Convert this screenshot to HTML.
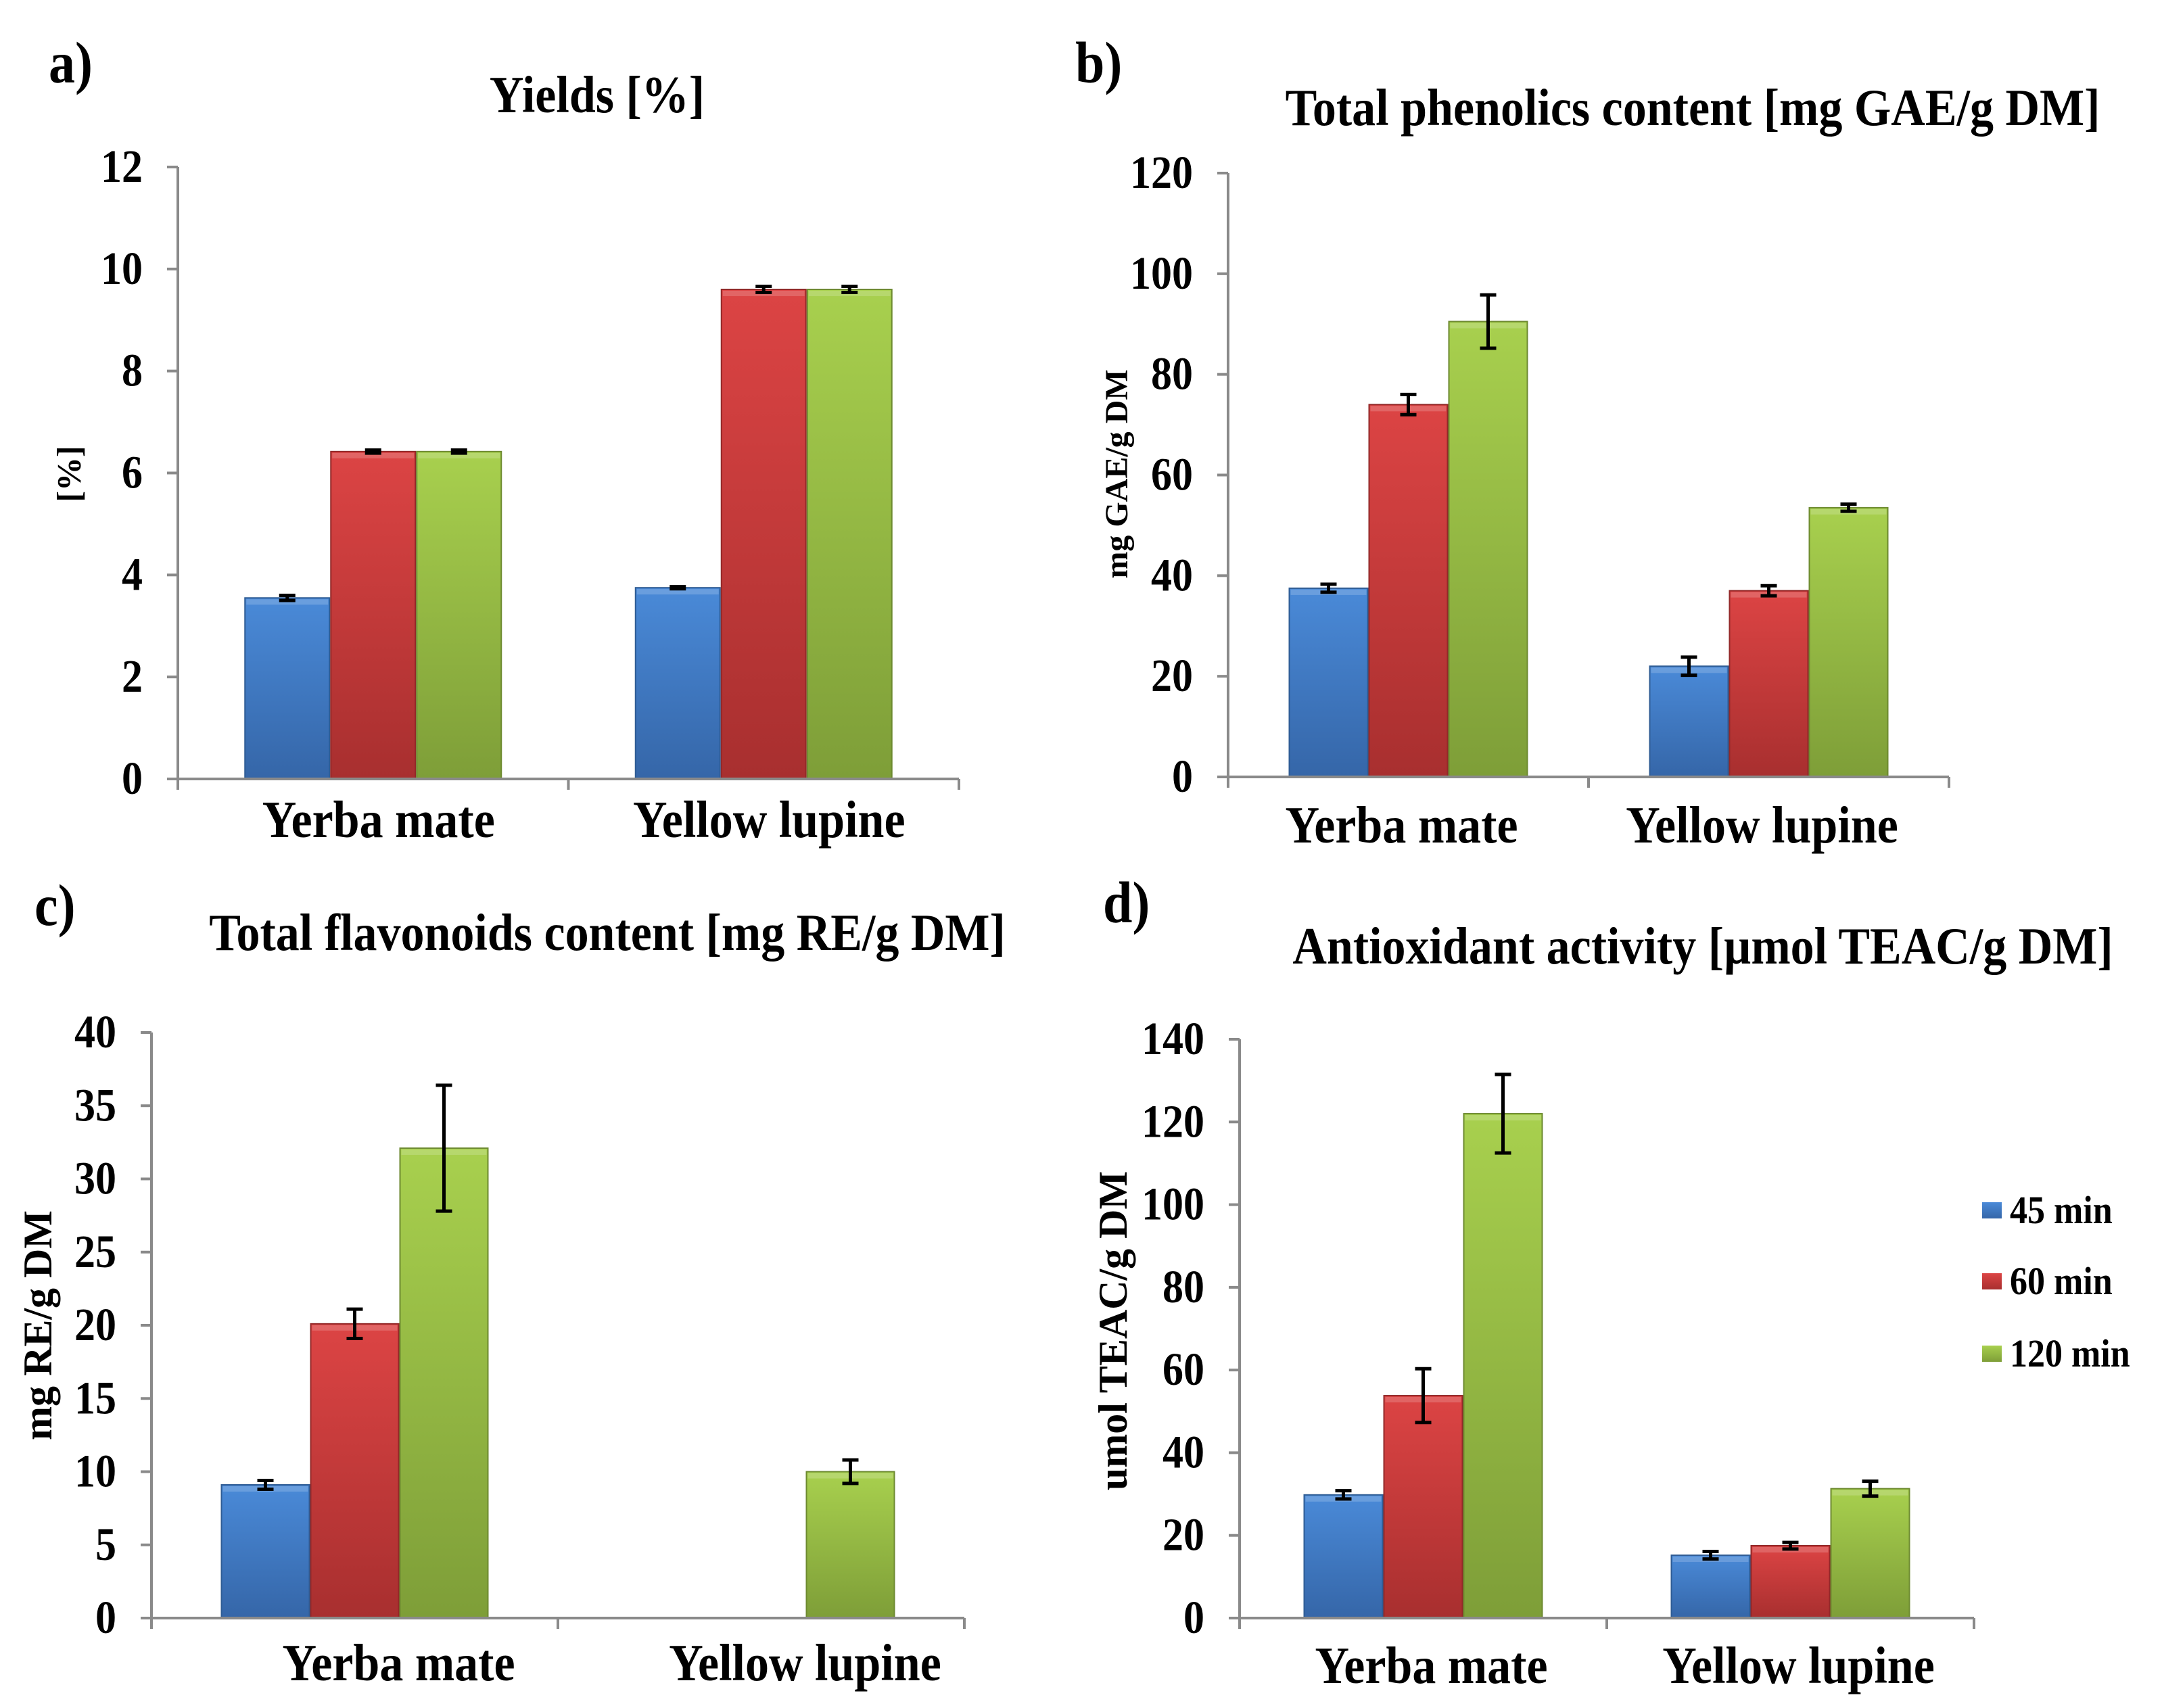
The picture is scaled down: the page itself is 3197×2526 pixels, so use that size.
<!DOCTYPE html>
<html><head><meta charset="utf-8"><style>html,body{margin:0;padding:0;background:#fff;overflow:hidden}svg{display:block}</style></head>
<body>
<svg id="fig" xmlns="http://www.w3.org/2000/svg" width="3197" height="2526" viewBox="0 0 3197 2526">
<defs>
<linearGradient id="g0" x1="0" y1="0" x2="0" y2="1"><stop offset="0" stop-color="#4a8ad8"/><stop offset="1" stop-color="#3566a8"/></linearGradient>
<linearGradient id="g1" x1="0" y1="0" x2="0" y2="1"><stop offset="0" stop-color="#dc4444"/><stop offset="1" stop-color="#a82f2f"/></linearGradient>
<linearGradient id="g2" x1="0" y1="0" x2="0" y2="1"><stop offset="0" stop-color="#a8d04e"/><stop offset="1" stop-color="#7e9e38"/></linearGradient>
</defs>
<rect x="0" y="0" width="3197" height="2526" fill="#fff"/>
</svg>
<script>
const categories = ["Yerba mate", "Yellow lupine"];
const seriesNames = ["45 min", "60 min", "120 min"];
const titles = ["Yields [%]", "Total phenolics content [mg GAE/g DM]", "Total flavonoids content [mg RE/g DM]", "Antioxidant activity [\u00b5mol TEAC/g DM]"];
const yTitles = ["[%]", "mg GAE/g DM", "mg RE/g DM", "umol TEAC/g DM"];
const panelLetters = ["a)", "b)", "c)", "d)"];
const yTicksA = [0, 2, 4, 6, 8, 10, 12];
const yTicksB = [0, 20, 40, 60, 80, 100, 120];
const yTicksC = [0, 5, 10, 15, 20, 25, 30, 35, 40];
const yTicksD = [0, 20, 40, 60, 80, 100, 120, 140];
// values[series][category]
const valuesA = [[3.55, 3.75], [6.42, 9.6], [6.42, 9.6]];
const errorsA = [[0.05, 0.02], [0.03, 0.06], [0.03, 0.06]];
const valuesB = [[37.5, 22], [74, 37], [90.5, 53.5]];
const errorsB = [[0.8, 1.8], [2, 1], [5.3, 0.7]];
const valuesC = [[9.1, 0], [20.1, 0], [32.1, 10]];
const errorsC = [[0.3, 0], [1, 0], [4.3, 0.8]];
const valuesD = [[29.8, 15.2], [53.8, 17.5], [122, 31.3]];
const errorsD = [[1, 0.9], [6.5, 0.8], [9.5, 1.8]];

const NS = "http://www.w3.org/2000/svg";
const svg = document.getElementById("fig");
const SX = 0.9;
function el(tag, attrs, parent) {
  const e = document.createElementNS(NS, tag);
  for (const k in attrs) e.setAttribute(k, attrs[k]);
  (parent || svg).appendChild(e);
  return e;
}
function txt(s, x, y, size, anchor, parent, rot) {
  const t = el("text", {
    transform: rot ? `translate(${x},${y}) rotate(-90)` : `translate(${x},${y}) scale(${SX},1)`,
    "font-family": "'Liberation Serif', serif", "font-weight": "bold", "font-size": rot ? size : size / SX,
    "text-anchor": anchor, fill: "#000"
  }, parent);
  t.textContent = s;
  return t;
}

const panels = [
  {ticks: yTicksA, vals: valuesA, errs: errorsA, ax0: 263, ax1: 1418, y0: 1152, yTop: 247, barW: 127, catDy: 83, catDx: 8,
   title: [883, 166], letter: [72, 122], ylab: [102, 701, 50]},
  {ticks: yTicksB, vals: valuesB, errs: errorsB, ax0: 1816, ax1: 2882, y0: 1149, yTop: 256, barW: 118, catDy: 94, catDx: -10,
   title: [2503, 185], letter: [1590, 122], ylab: [1651, 701, 48]},
  {ticks: yTicksC, vals: valuesC, errs: errorsC, ax0: 224, ax1: 1426, y0: 2393, yTop: 1527, barW: 132, catDy: 89, catDx: 65,
   title: [898, 1405], letter: [51, 1368], ylab: [56, 1960, 60]},
  {ticks: yTicksD, vals: valuesD, errs: errorsD, ax0: 1833, ax1: 2919, y0: 2393, yTop: 1537, barW: 118, catDy: 93, catDx: 12,
   title: [2518, 1425], letter: [1631, 1364], ylab: [1646, 1968, 60]}
];

panels.forEach((p, pi) => {
  const g = el("g", {});
  
  
  const tMax = p.ticks[p.ticks.length - 1];
  const yScale = v => p.y0 - (v / tMax) * (p.y0 - p.yTop);
  const bandW = (p.ax1 - p.ax0) / categories.length;
  const xCenter = i => p.ax0 + bandW * (i + 0.5);

  const lt = txt(panelLetters[pi], p.letter[0], p.letter[1], 78, "start", g);
  
  
  const tt = txt(titles[pi], p.title[0], p.title[1], 70, "middle", g);
  
  
  const yl = txt(yTitles[pi], p.ylab[0] + p.ylab[2] * 0.33, p.ylab[1], p.ylab[2], "middle", g, true);
  
  

  seriesNames.forEach((s, si) => {
    categories.forEach((c, ci) => {
      const v = p.vals[si][ci];
      if (v <= 0) return;
      const x = xCenter(ci) - 1.5 * p.barW + si * p.barW;
      const yv = yScale(v);
      const r = el("rect", {x: x + 1, y: yv, width: p.barW - 2, height: p.y0 - yv, fill: `url(#g${si})`, stroke: ["#2f5c94","#922828","#6d8a30"][si], "stroke-width": 2}, g);
      
      
      const hl = el("rect", {x: x + 3, y: yv + 2, width: p.barW - 6, height: 8, fill: "#fff", opacity: 0.18}, g);
      
      
      const e = p.errs[si][ci];
      const cx = x + p.barW / 2;
      const ya = yScale(v + e), yb = yScale(v - e);
      const eb = el("path", {d: `M${cx},${ya}V${yb}M${cx - 12},${ya}H${cx + 12}M${cx - 12},${yb}H${cx + 12}`, stroke: "#000", "stroke-width": 5, fill: "none"}, g);
      
      
    });
  });

  const ya = el("line", {x1: p.ax0, y1: p.yTop, x2: p.ax0, y2: p.y0, stroke: "#8a8a8a", "stroke-width": 4}, g);
  
  
  const xa = el("line", {x1: p.ax0 - 16, y1: p.y0, x2: p.ax1, y2: p.y0, stroke: "#8a8a8a", "stroke-width": 4}, g);
  
  
  p.ticks.forEach(t => {
    const y = yScale(t);
    const tk = el("line", {x1: p.ax0 - 16, y1: y, x2: p.ax0, y2: y, stroke: "#8a8a8a", "stroke-width": 4}, g);
    
    
    const lb = txt(String(t), p.ax0 - 52, y + 22, 62, "end", g);
    
    
  });
  for (let i = 0; i <= categories.length; i++) {
    const x = p.ax0 + bandW * i;
    const tk = el("line", {x1: x, y1: p.y0, x2: x, y2: p.y0 + 16, stroke: "#8a8a8a", "stroke-width": 4}, g);
    
    
  }
  categories.forEach((c, ci) => {
    const lb = txt(c, xCenter(ci) + p.catDx, p.y0 + p.catDy + 3, 70, "middle", g);
    
    
  });
});

const legendY = [1790, 1895, 2002];
const leg = el("g", {});


seriesNames.forEach((s, si) => {
  const sw = el("rect", {x: 2931, y: legendY[si] - 12, width: 29, height: 24, fill: `url(#g${si})`}, leg);
  
  
  const t = txt(s, 2972, legendY[si] + 19, 52, "start", leg);
  
  
});
</script>
</body></html>
